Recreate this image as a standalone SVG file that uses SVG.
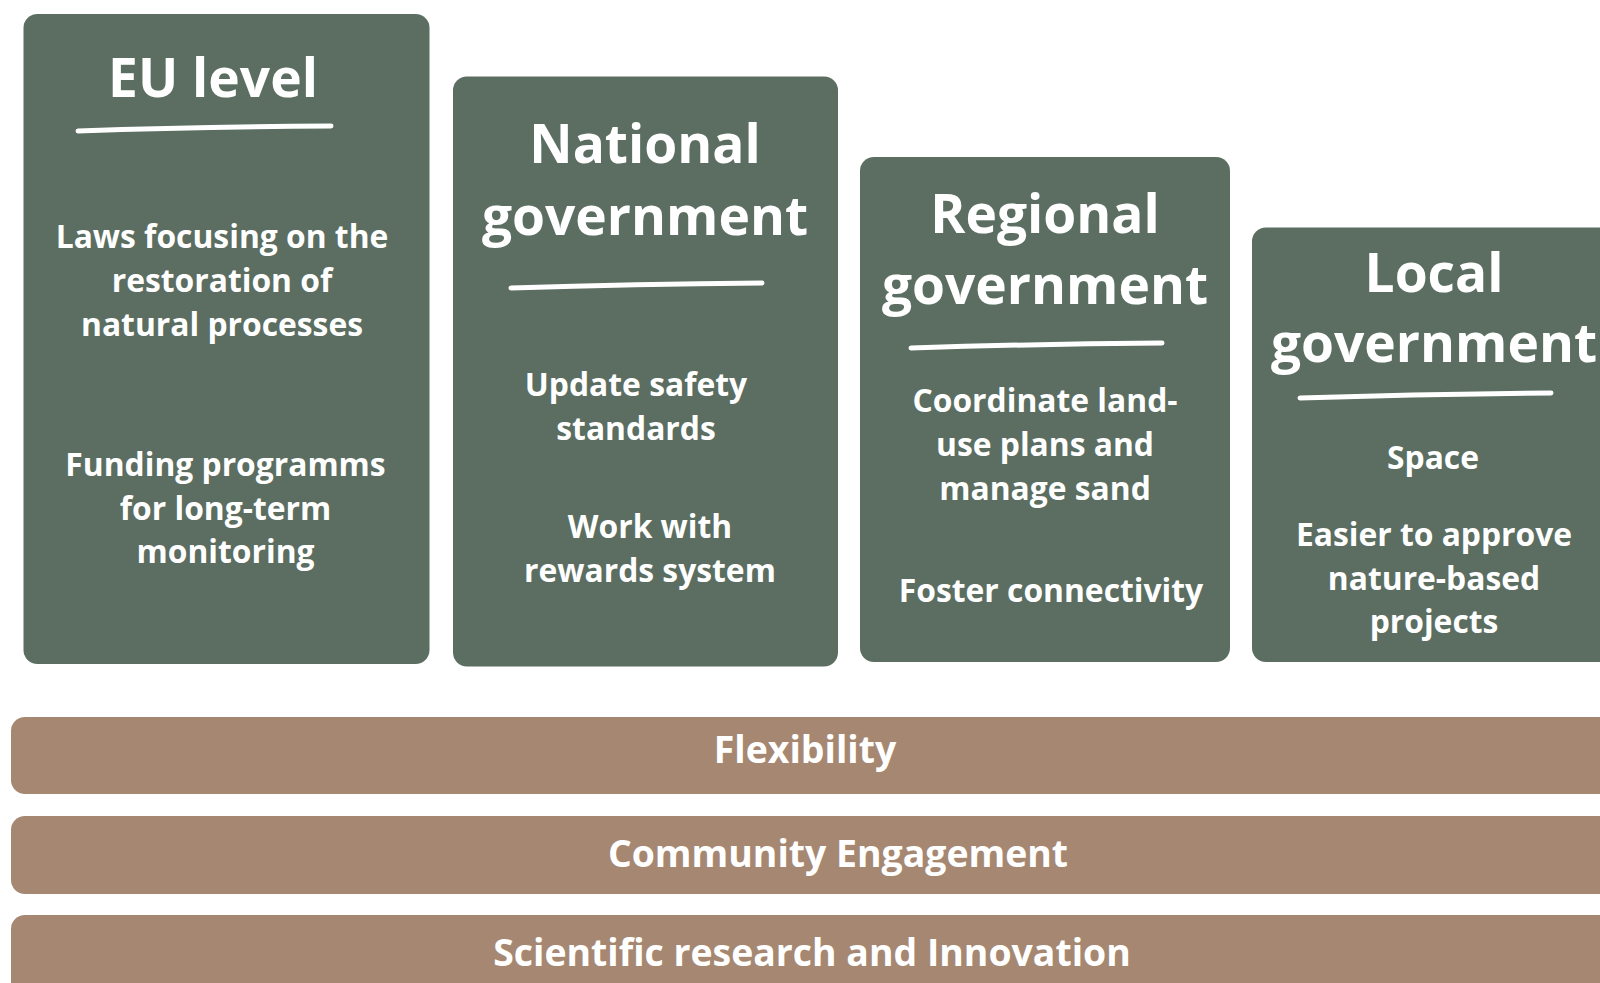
<svg xmlns="http://www.w3.org/2000/svg" width="1600" height="983" viewBox="0 0 1600 983">
<style>
.box{fill:#5b6e61}
.bar{fill:#a68872}
.t{font-family:"Open Sans","Noto Sans","Liberation Sans",sans-serif;font-weight:700;fill:#ffffff;text-anchor:middle}
.title{font-size:53.3px}
.body{font-size:31.8px}
.bart{font-size:37.4px}
.ul{fill:none;stroke:#ffffff;stroke-width:5;stroke-linecap:round}
</style>
<rect width="1600" height="983" fill="#ffffff"/>
<g id="eu">
<rect class="box" x="23.5" y="14" width="406" height="650" rx="14"/>
<text class="t title" x="213" y="97">EU level</text>
<path class="ul" d="M78 131 Q200 127 331 126"/>
<text class="t body" x="222" y="248">Laws focusing on the</text>
<text class="t body" x="222" y="292">restoration of</text>
<text class="t body" x="222" y="336">natural processes</text>
<text class="t body" x="225.5" y="475.5">Funding programms</text>
<text class="t body" x="225.5" y="519.5">for long-term</text>
<text class="t body" x="225.5" y="563">monitoring</text>
</g>
<g id="national">
<rect class="box" x="453" y="76.5" width="385" height="590" rx="14"/>
<text class="t title" x="645" y="163">National</text>
<text class="t title" x="645" y="235">government</text>
<path class="ul" d="M511 288 Q635 284 762 283"/>
<text class="t body" x="636" y="396">Update safety</text>
<text class="t body" x="636" y="440">standards</text>
<text class="t body" x="650" y="538">Work with</text>
<text class="t body" x="650" y="582">rewards system</text>
</g>
<g id="regional">
<rect class="box" x="860" y="157" width="370" height="505" rx="14"/>
<text class="t title" x="1045" y="233">Regional</text>
<text class="t title" x="1045" y="304">government</text>
<path class="ul" d="M911 348 Q1035 344 1162 343"/>
<text class="t body" x="1045" y="412">Coordinate land-</text>
<text class="t body" x="1045" y="456">use plans and</text>
<text class="t body" x="1045" y="500">manage sand</text>
<text class="t body" x="1051" y="602">Foster connectivity</text>
</g>
<g id="local">
<rect class="box" x="1252" y="227.5" width="370" height="434.5" rx="14"/>
<text class="t title" x="1434" y="292">Local</text>
<text class="t title" x="1434" y="362">government</text>
<path class="ul" d="M1300 398 Q1424 394 1551 393"/>
<text class="t body" x="1433" y="469">Space</text>
<text class="t body" x="1434" y="546">Easier to approve</text>
<text class="t body" x="1434" y="590">nature-based</text>
<text class="t body" x="1434" y="633">projects</text>
</g>
<g id="flexibility">
<rect class="bar" x="11" y="717" width="1620" height="77" rx="14"/>
<text class="t bart" x="805" y="763">Flexibility</text>
</g>
<g id="community">
<rect class="bar" x="11" y="816" width="1620" height="78" rx="14"/>
<text class="t bart" x="838" y="867">Community Engagement</text>
</g>
<g id="science">
<rect class="bar" x="11" y="915" width="1620" height="100" rx="14"/>
<text class="t bart" x="812" y="966">Scientific research and Innovation</text>
</g>
<g id="connectors"></g>
</svg>
